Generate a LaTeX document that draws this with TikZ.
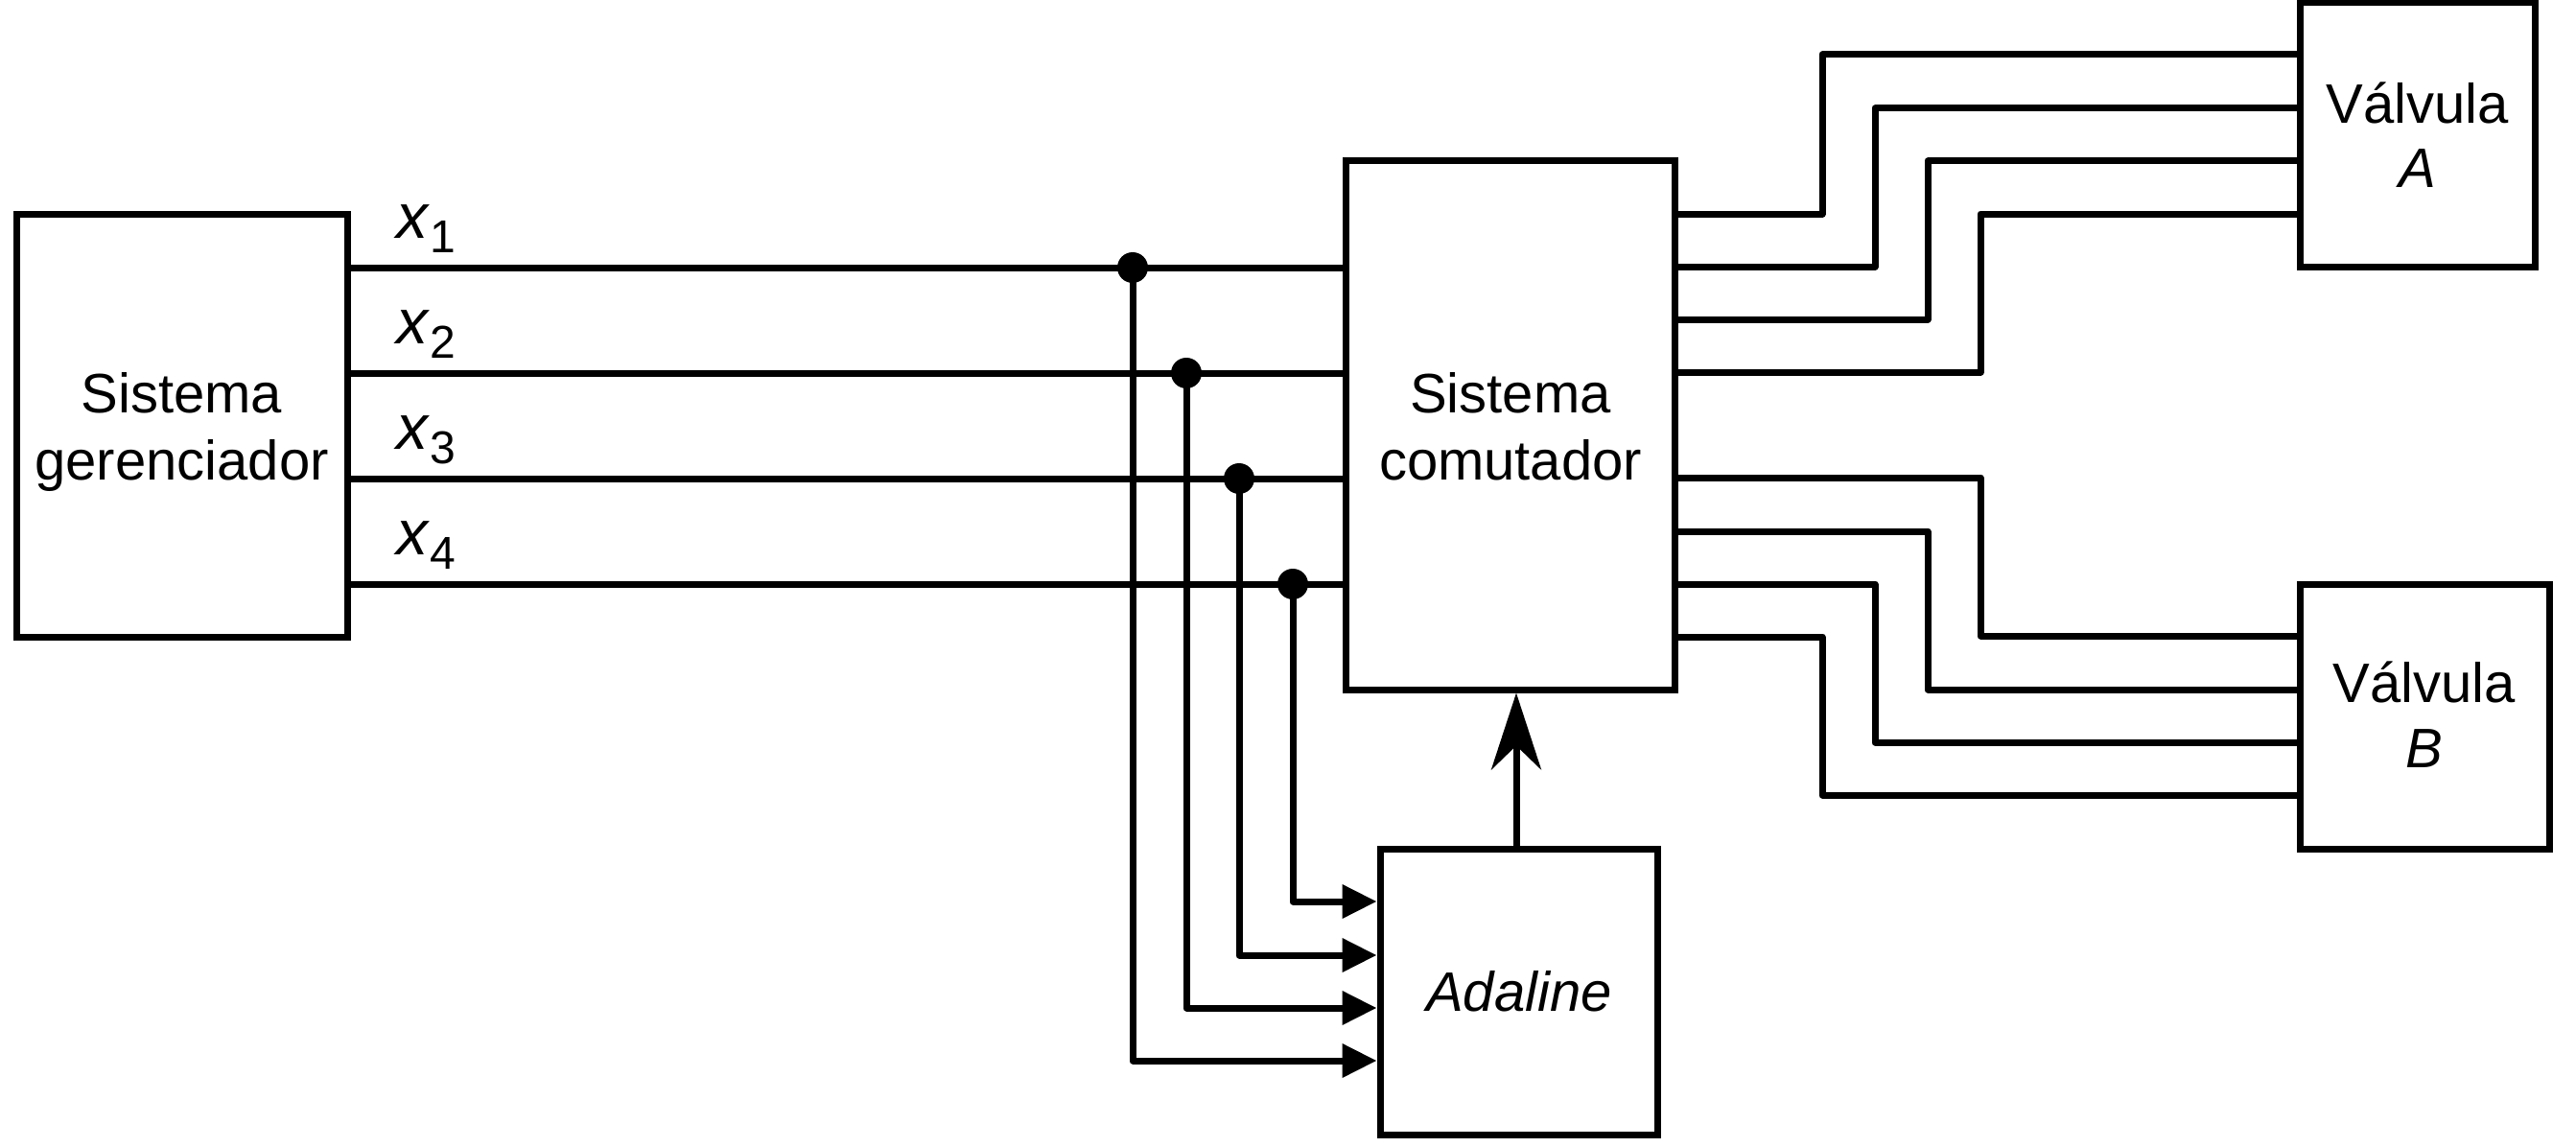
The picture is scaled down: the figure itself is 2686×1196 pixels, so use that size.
\documentclass[tikz,border=0pt]{standalone}
\usepackage{fontspec}
\setmainfont{Liberation Sans}
\usetikzlibrary{arrows.meta,calc}
\begin{document}
\begin{tikzpicture}[x=1pt,y=-1pt,
  box/.style={draw,line width=7pt,rectangle,inner sep=0pt},
  wire/.style={line width=7pt,line join=round},
  txt/.style={anchor=base,inner sep=0pt,font=\fontsize{58}{70}\selectfont},
  itxt/.style={txt,font=\fontsize{58}{70}\selectfont\itshape},
  xlab/.style={anchor=base west,inner sep=0pt,font=\fontsize{66}{70}\selectfont},
  jdot/.style={circle,fill,inner sep=0pt,minimum size=32pt},
  inarrow/.style={wire,-{Triangle[length=36pt,width=34pt]}},
  uparrow/.style={wire,-{Stealth[length=80pt,width=52pt,inset=25pt]}}
  ]
\useasboundingbox (0,0) rectangle (2686,1196);

% boxes
\node[box,minimum width=345pt,minimum height=441pt] (ger) at (189.5,443.5) {};
\node[box,minimum width=343pt,minimum height=551pt] (com) at (1574.5,443.5) {};
\node[box,minimum width=289pt,minimum height=298pt] (ada) at (1583.5,1034) {};
\node[box,minimum width=245pt,minimum height=275pt] (va) at (2520.5,140.5) {};
\node[box,minimum width=260pt,minimum height=276pt] (vb) at (2528,747) {};

% texts
\node[txt] (gerT1) at (189.5,430) {Sistema};
\node[txt] (gerT2) at (189.5,500) {gerenciador};
\node[txt] (comT1) at (1575,430) {Sistema};
\node[txt] (comT2) at (1575,500) {comutador};
\node[itxt] (adaT) at (1584,1054) {Adaline};
\node[txt] (vaT1) at (2521,129) {Válvula};
\node[itxt] (vaT2) at (2521,195) {A};
\node[txt] (vbT1) at (2528,732) {Válvula};
\node[itxt] (vbT2) at (2528,800) {B};

% labels x_i
\foreach \i/\y in {1/248,2/358,3/468,4/578}{
  \node[xlab] (xl\i) at (413,\y) {\textit{x}\raisebox{-15pt}{\fontsize{48}{50}\selectfont\i}};
}

% input lines and junctions
\coordinate (j1) at (1181,279);
\coordinate (j2) at (1237,389);
\coordinate (j3) at (1292,499);
\coordinate (j4) at (1348,609);
\foreach \i/\ay in {1/1106,2/1051,3/996,4/940}{
  \draw[wire] (ger.east |- j\i) -- (com.west |- j\i);
  \draw[inarrow] (j\i) |- (ada.west |- 0,\ay);
  \node[jdot] (d\i) at (j\i) {};
}

% Adaline -> comutador
\draw[uparrow] (ada.north -| 1581,0) -- (com.south -| 1581,0);

% outputs to valve A
\foreach \oy/\vx/\iy in {223/1900/57,278/1955/113,333/2010/168,388/2065/223}{
  \draw[wire] (com.east |- 0,\oy) -- (\vx,\oy) |- (va.west |- 0,\iy);
}
% outputs to valve B
\foreach \oy/\vx/\iy in {498/2065/663,554/2010/719,609/1955/774,664/1900/829}{
  \draw[wire] (com.east |- 0,\oy) -- (\vx,\oy) |- (vb.west |- 0,\iy);
}
\end{tikzpicture}
\end{document}
